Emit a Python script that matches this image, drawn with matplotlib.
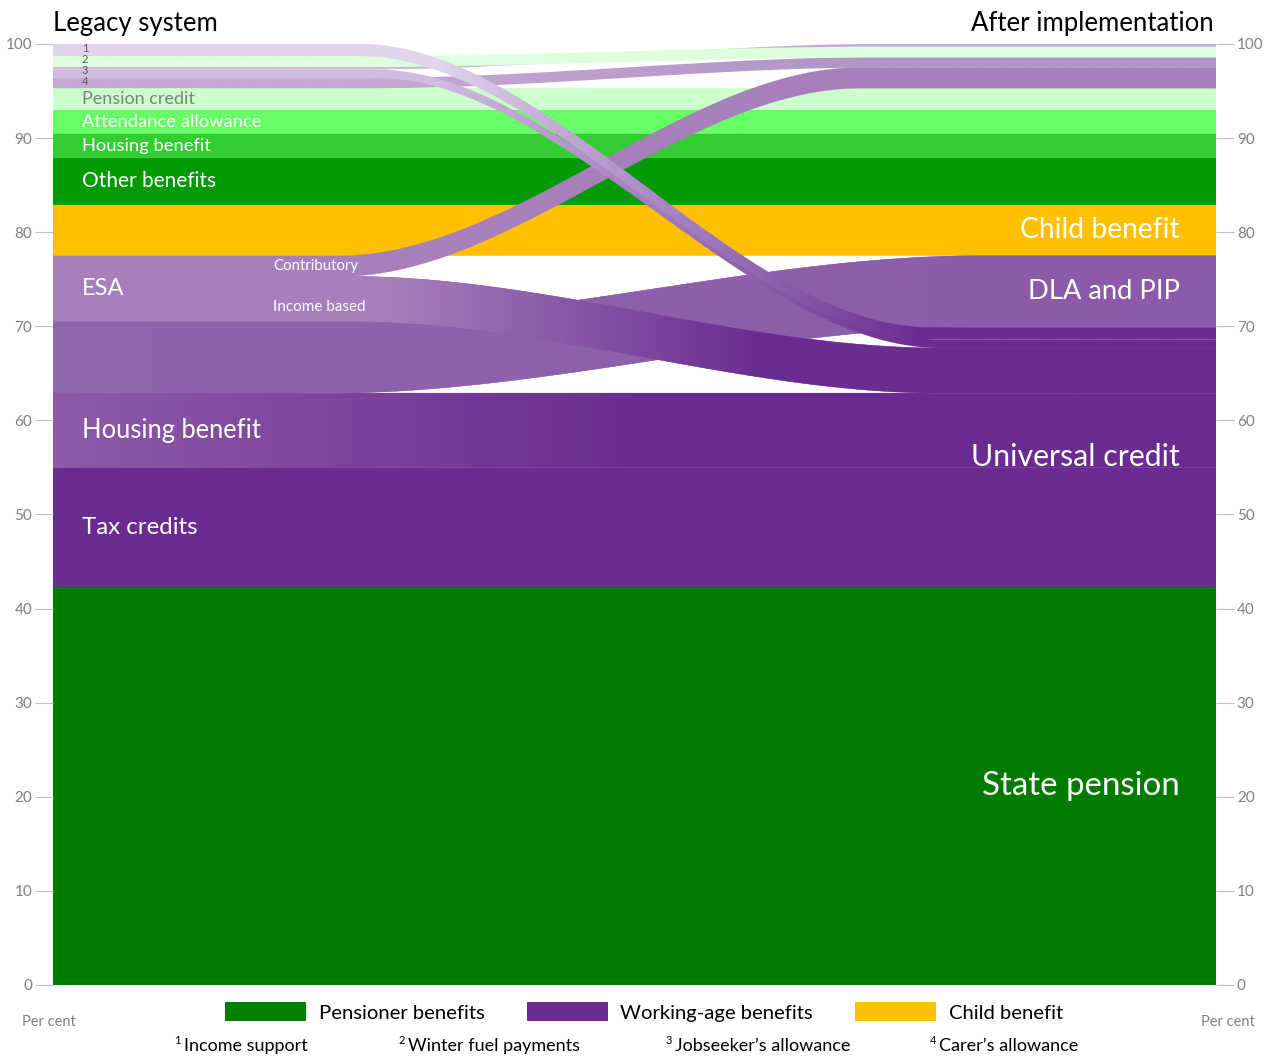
import numpy as np
import matplotlib.pyplot as plt
from matplotlib.patches import Polygon, Patch
from matplotlib.colors import to_rgb

plt.rcParams['font.family'] = ['Lato', 'DejaVu Sans']

# Share of spending (per cent), one value per flow, listed bottom to top on the legacy side
flow_names = ['State pension', 'Tax credits', 'Housing benefit WA', 'DLA', 'ESA income based',
              'ESA contributory', 'Child benefit', 'Other benefits', 'Housing benefit pens',
              'Attendance allowance', 'Pension credit', "Carer's allowance", 'JSA income based',
              'JSA contributory', 'Winter fuel payments', 'Income support']
flow_values = [42.3, 12.7, 7.9, 7.6, 4.8, 2.2, 5.4, 5.0, 2.6, 2.5, 2.3, 1.1, 0.9, 0.3, 1.1, 1.3]

# order of the same flows on the "after implementation" side, bottom to top
right_order = ['State pension', 'Tax credits', 'Housing benefit WA', 'ESA income based',
               'JSA income based', 'Income support', 'DLA', 'Child benefit', 'Other benefits',
               'Housing benefit pens', 'Attendance allowance', 'Pension credit', 'ESA contributory',
               "Carer's allowance", 'Winter fuel payments', 'JSA contributory']

right_labels = ['Child benefit', 'DLA and PIP', 'Universal credit', 'State pension']
footnotes = ['Income support', 'Winter fuel payments', "Jobseeker\u2019s allowance", "Carer\u2019s allowance"]
legend_labels = ['Pensioner benefits', 'Working-age benefits', 'Child benefit']

UC = '#6A2C91'
# style: left colour, right colour, curve start/end (px), gradient start/end (px), zorder
style = {
    'State pension':        ('#017C01', '#017C01', None, None, None, None, 1),
    'Tax credits':          (UC, UC, None, None, None, None, 1),
    'Housing benefit WA':   ('#8E5AA9', UC, None, None, 53, 640, 1),
    'Child benefit':        ('#FFC000', '#FFC000', None, None, None, None, 1),
    'Other benefits':       ('#049A06', '#049A06', None, None, None, None, 1),
    'Housing benefit pens': ('#33CC33', '#33CC33', None, None, None, None, 1),
    'Attendance allowance': ('#66FF66', '#66FF66', None, None, None, None, 1),
    'Pension credit':       ('#CCFFCC', '#CCFFCC', None, None, None, None, 1),
    'DLA':                  ('#9066AD', '#8B5AA8', 330, 980, 53, 1216, 2),
    'ESA income based':     ('#A67FBB', UC, 350, 940, 390, 760, 3),
    'Winter fuel payments': ('#DDFFDD', '#DDFFDD', 370, 880, None, None, 4),
    "Carer's allowance":    ('#C4A8D3', '#B294C6', 370, 880, 370, 880, 4),
    'JSA contributory':     ('#D0BCDF', '#C4A7D4', 370, 880, 370, 880, 4),
    'ESA contributory':     ('#A67FBB', '#A67FBB', 340, 860, None, None, 5),
    'JSA income based':     ('#D0BCDF', UC, 375, 940, 440, 920, 6),
    'Income support':       ('#E0D5EB', UC, 360, 930, 440, 920, 6),
}

vals = dict(zip(flow_names, flow_values))
left_lo = dict(zip(flow_names, np.cumsum([0] + flow_values[:-1])))
right_vals = [vals[n] for n in right_order]
right_lo = dict(zip(right_order, np.cumsum([0] + right_vals[:-1])))

fig = plt.figure(figsize=(12.64, 10.57), dpi=100)
ax = fig.add_axes([53 / 1264, 72 / 1057, 1163 / 1264, 941 / 1057])
X0, X1 = 53, 1216
xs = np.linspace(X0, X1, 1200)


def draw_flow(name):
    c0, c1, a, b, g0, g1, z = style[name]
    v = vals[name]
    y0, y1 = left_lo[name], right_lo[name]
    if a is None:
        s = np.zeros_like(xs)
    else:
        t = np.clip((xs - a) / (b - a), 0, 1)
        s = t * t * (3 - 2 * t)
    lo = y0 + (y1 - y0) * s
    hi = lo + v
    verts = np.column_stack([np.r_[xs, xs[::-1]], np.r_[lo, hi[::-1]]])
    if c0 == c1:
        ax.add_patch(Polygon(verts, closed=True, fc=c0, ec=c0, lw=0.2, zorder=z))
        return
    if v >= 2:
        # solid base underneath so the clipped image leaves no light seam
        mid = (np.array(to_rgb(c0)) + np.array(to_rgb(c1))) / 2
        ax.add_patch(Polygon(verts, closed=True, fc=mid, ec=mid, lw=0.3, zorder=z))
    # horizontal colour gradient: an image clipped to the ribbon outline
    patch = Polygon(verts, closed=True, fc='none', ec='none', zorder=z)
    ax.add_patch(patch)
    gx = np.linspace(X0 - 20, X1 + 20, 800)
    f = np.clip((gx - g0) / (g1 - g0), 0, 1)[None, :, None]
    img = (1 - f) * np.array(to_rgb(c0)) + f * np.array(to_rgb(c1))
    im = ax.imshow(img, extent=[gx[0], gx[-1], lo.min() - 2, hi.max() + 2], origin='lower',
                   aspect='auto', interpolation='bilinear', zorder=z)
    im.set_clip_path(patch)


for name in sorted(flow_names, key=lambda n: style[n][6]):
    draw_flow(name)

ax.set_xlim(X0, X1)
ax.set_ylim(0, 100)
ax.set_xticks([])
ax.set_yticks(range(0, 101, 10))
for sp in ax.spines.values():
    sp.set_visible(False)
ax.tick_params(axis='y', length=13, width=0.8, color='#BFBFBF', labelcolor='#808080',
               labelsize=11, pad=2, right=True, labelright=True)


def mid_left(n):
    return left_lo[n] + vals[n] / 2


# labels on the legacy side
ax.text(82, mid_left('Pension credit'), 'Pension credit', color='#808080', fontsize=13, va='center', zorder=10)
ax.text(82, mid_left('Attendance allowance'), 'Attendance allowance', color='white', fontsize=13.2, va='center', zorder=10)
ax.text(82, mid_left('Housing benefit pens'), 'Housing benefit', color='white', fontsize=13.2, va='center', zorder=10)
ax.text(82, mid_left('Other benefits'), 'Other benefits', color='white', fontsize=15, va='center', zorder=10)
esa_mid = left_lo['ESA income based'] + (vals['ESA income based'] + vals['ESA contributory']) / 2
ax.text(82, esa_mid, 'ESA', color='white', fontsize=17, va='center', zorder=10)
ax.text(273, mid_left('ESA contributory'), 'Contributory', color='white', fontsize=10.8, va='center', zorder=10)
ax.text(273, mid_left('ESA income based') - 0.8, 'Income based', color='white', fontsize=11, va='center', zorder=10)
ax.text(82, mid_left('Housing benefit WA'), 'Housing benefit', color='white', fontsize=18.4, va='center', zorder=10)
ax.text(82, mid_left('Tax credits'), 'Tax credits', color='white', fontsize=17.3, va='center', zorder=10)
for i, n in enumerate(['Income support', 'Winter fuel payments', 'JSA', "Carer's allowance"]):
    if n == 'JSA':
        y = left_lo['JSA income based'] + (vals['JSA income based'] + vals['JSA contributory']) / 2
    else:
        y = mid_left(n)
    ax.text(85, y + 0.2, str(i + 1), color='#595959', fontsize=8, va='center', ha='center', zorder=10)

# labels on the after-implementation side
cb_mid = right_lo['Child benefit'] + vals['Child benefit'] / 2
dla_mid = right_lo['DLA'] + vals['DLA'] / 2
uc_mid = right_lo['DLA'] / 2 + right_lo['Tax credits'] / 2
sp_mid = vals['State pension'] / 2
for y, txt, fs in zip([cb_mid, dla_mid, uc_mid, sp_mid], right_labels, [20.3, 19.7, 21.8, 23.8]):
    ax.text(1180, y, txt, color='white', fontsize=fs, va='center', ha='right', zorder=10)

fig.text(53 / 1264, 1 - 23 / 1057, 'Legacy system', fontsize=18.5, va='center', ha='left')
fig.text(1214 / 1264, 1 - 23 / 1057, 'After implementation', fontsize=18.5, va='center', ha='right')
fig.text(22 / 1264, 1 - 1022 / 1057, 'Per cent', fontsize=10.5, color='#808080', va='center', ha='left')
fig.text(1255 / 1264, 1 - 1022 / 1057, 'Per cent', fontsize=10.5, color='#808080', va='center', ha='right')

handles = [Patch(facecolor='#008000'), Patch(facecolor=UC), Patch(facecolor='#FFC000')]
fig.legend(handles, legend_labels, loc='center', bbox_to_anchor=(644 / 1264, 1 - 1012 / 1057),
           ncol=3, frameon=False, fontsize=14.6, handlelength=4.0, handleheight=1.0,
           handletextpad=0.6, columnspacing=2.1)

for i, (txt, px) in enumerate(zip(footnotes, [184, 408, 675, 939])):
    fig.text(px / 1264, 1 - 1046 / 1057, txt, fontsize=13, va='center', ha='left')
    fig.text((px - 3) / 1264, 1 - 1041 / 1057, str(i + 1), fontsize=8, va='center', ha='right')

fig.savefig('out.png', dpi=100)
